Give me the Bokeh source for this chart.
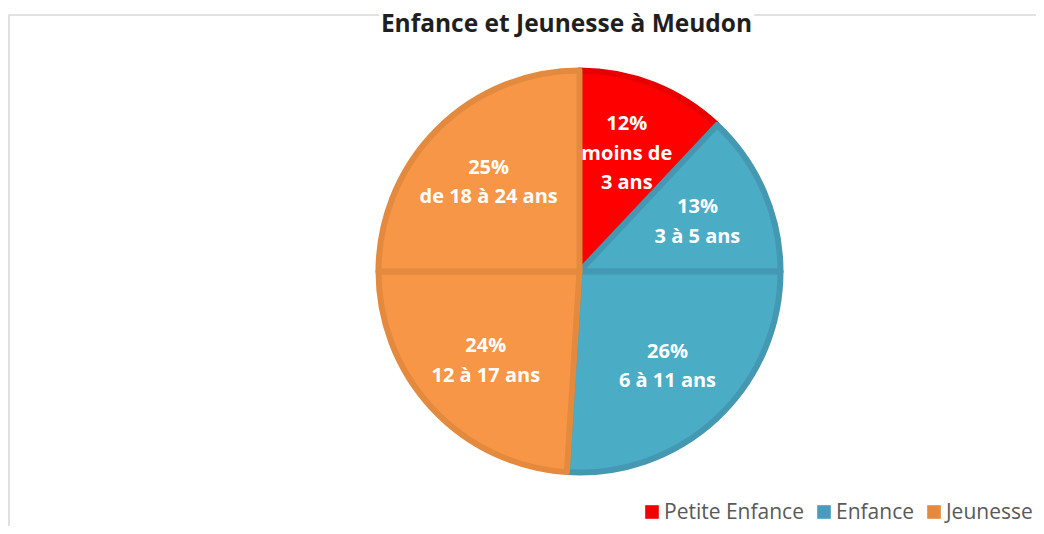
import math
from bokeh.plotting import figure
from bokeh.models import Range1d, ColumnDataSource, Legend, LegendItem
from bokeh.core.properties import value
from bokeh.embed import file_html
from bokeh.resources import INLINE

# ---- data ----
title = "Enfance et Jeunesse à Meudon"
percents = [12, 13, 26, 24, 25]
age_labels = ["moins de\n3 ans", "3 à 5 ans", "6 à 11 ans", "12 à 17 ans", "de 18 à 24 ans"]
groups = ["Petite Enfance", "Enfance", "Enfance", "Jeunesse", "Jeunesse"]
legend_groups = ["Petite Enfance", "Enfance", "Jeunesse"]

# ---- styles ----
fill_map = {"Petite Enfance": "#FF0000", "Enfance": "#4BACC6", "Jeunesse": "#F79646"}
edge_map = {"Petite Enfance": "#E80000", "Enfance": "#4598B2", "Jeunesse": "#E38A3F"}
legend_colors = {"Petite Enfance": "#F00000", "Enfance": "#4A9BBF", "Jeunesse": "#E5893C"}

W, H = 1036, 526
def py(pic_y):
    # picture y (from top) -> data y (up)
    return H - pic_y

cx, cy, R = 579, py(271), 204

total = float(sum(percents))
starts, ends, mids = [], [], []
acc = 0.0
for v in percents:
    a0 = math.pi / 2 - 2 * math.pi * acc / total
    acc += v
    a1 = math.pi / 2 - 2 * math.pi * acc / total
    starts.append(a0)
    ends.append(a1)
    mids.append((a0 + a1) / 2)

lab_r = 0.63 * R
src = ColumnDataSource(dict(
    start=starts, end=ends,
    fill=[fill_map[g] for g in groups],
    edge=[edge_map[g] for g in groups],
    lx=[cx + lab_r * math.cos(m) for m in mids],
    ly=[cy + lab_r * math.sin(m) for m in mids],
    txt=[f"{v}%\n{l}" for v, l in zip(percents, age_labels)],
))

p = figure(width=W, height=H, x_range=Range1d(0, W), y_range=Range1d(0, H),
           output_backend="svg", toolbar_location=None, min_border=0,
           x_axis_location=None, y_axis_location=None,
           outline_line_color=None, background_fill_color="white", border_fill_color="white")
p.grid.visible = False

# chart area border (light gray)
p.line(x=[8.5, 8.5, 1200], y=[-20, py(14.5), py(14.5)], line_color="#D9D9D9", line_width=1.6)

# title (white background so it sits cleanly over the border line)
p.text(x=[566], y=[py(22)], text=[title], text_align="center", text_baseline="alphabetic",
       text_font=value("Open Sans"), text_font_style="bold", text_font_size="24.5px",
       text_color="#1F1F1F", background_fill_color="white", padding=2)

# pie
p.wedge(x=cx, y=cy, radius=R - 3, start_angle="start", end_angle="end", direction="clock",
        fill_color="fill", line_color="edge", line_width=6, line_join="round", source=src)

# labels
p.text(x="lx", y="ly", text="txt", source=src, text_align="center", text_baseline="middle",
       text_font=value("Open Sans"), text_font_style="bold", text_font_size="20px",
       text_color="white", text_line_height=1.08)

# legend (proxy renderers placed outside the visible range)
items = []
for g in legend_groups:
    r = p.quad(left=[-200], right=[-190], top=[-200], bottom=[-190], fill_color=legend_colors[g],
               line_color=legend_colors[g], line_width=0)
    items.append(LegendItem(label=g, renderers=[r]))
leg = Legend(items=items, orientation="horizontal", location=(643, 1),
             glyph_width=17, glyph_height=17, label_standoff=4, spacing=11,
             padding=0, margin=0, border_line_alpha=0, background_fill_alpha=0,
             label_text_font="Open Sans", label_text_font_size="21px",
             label_text_color="#595959")
p.add_layout(leg)

open("out.html", "w").write(file_html(p, INLINE))
